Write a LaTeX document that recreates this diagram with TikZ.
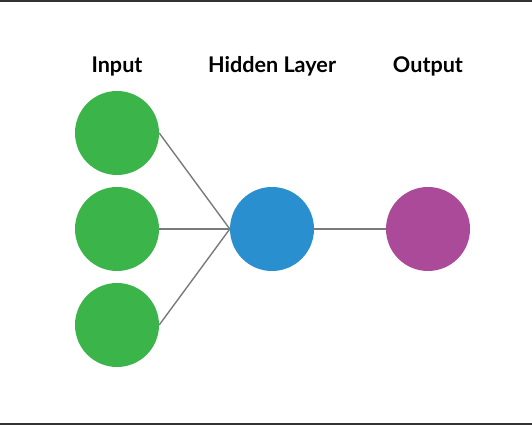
\documentclass[tikz,border=0pt]{standalone}
\usepackage{fontspec}
\setmainfont{Lato}
\usetikzlibrary{positioning}
\definecolor{ingreen}{HTML}{3BB54A}
\definecolor{hidblue}{HTML}{2A8FCE}
\definecolor{outpurple}{HTML}{AB4A99}
\definecolor{linkgray}{HTML}{7A7A7A}
\definecolor{framegray}{HTML}{333333}
\begin{document}
\begin{tikzpicture}[x=1pt, y=1pt, neuron/.style={circle, minimum size=84pt, inner sep=0pt}, layer/.style={font=\fontsize{21.6}{26}\selectfont\bfseries, anchor=base}, link/.style={draw=linkgray, line width=1.4pt}, node distance=96pt]

				\useasboundingbox (0,0) rectangle (532,425);
				\draw [framegray, line width=2pt] (0,424) -- (532,424);
				\draw [framegray, line width=2pt] (0,1) -- (532,1);

				\node [neuron, fill=ingreen] (I2) at (117,196) {};
				\node [neuron, fill=ingreen] (I1) [above of = I2] {};
				\node [neuron, fill=ingreen] (I3) [below of = I2] {};
				\node [neuron, fill=hidblue] (H) [node distance=155pt, right of = I2] {};
				\node [neuron, fill=outpurple] (O) [node distance=156pt, right of = H] {};

				\node [layer] (LI) at (117,352) {Input};
				\node [layer] (LH) at (272,352) {Hidden Layer};
				\node [layer] (LO) at (428,352) {Output};

				\draw [link] (I1.east) -- (H.west);
				\draw [link] (I2.east) -- (H.west);
				\draw [link] (I3.east) -- (H.west);
				\draw [link] (H) -- (O);

			\end{tikzpicture}
\end{document}
